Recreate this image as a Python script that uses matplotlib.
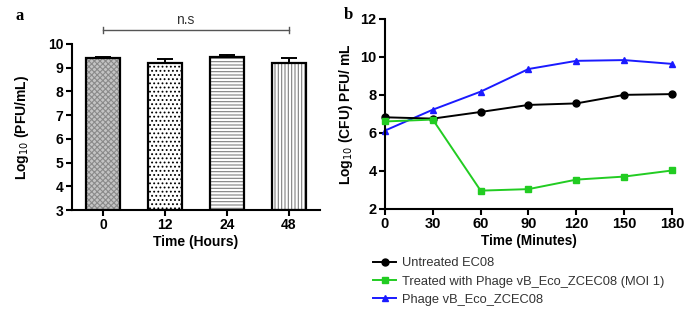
import numpy as np
import matplotlib
matplotlib.use("Agg")
import matplotlib.pyplot as plt

plt.rcParams["font.family"] = ["Liberation Sans", "DejaVu Sans"]
plt.rcParams["hatch.linewidth"] = 0.8

# ---- data: panel a ----
hours = ["0", "12", "24", "48"]
pfu_mean = [9.40, 9.20, 9.45, 9.20]
pfu_err = [0.03, 0.15, 0.10, 0.20]

# ---- data: panel b ----
minutes = [0, 30, 60, 90, 120, 150, 180]
untreated = [6.82, 6.75, 7.10, 7.47, 7.55, 8.00, 8.04]
treated = [6.60, 6.70, 2.96, 3.04, 3.54, 3.70, 4.02]
phage = [6.12, 7.22, 8.17, 9.36, 9.79, 9.83, 9.63]

fig = plt.figure(figsize=(6.85, 3.09), dpi=100)

# ---------------- panel a ----------------
ax1 = fig.add_axes([0.105, 0.320, 0.362, 0.538])
x = np.arange(len(hours))
hatches = ["xxxxxx", "....", "-----", "|||||"]
faces = ["#c4c4c4", "white", "white", "white"]
hcols = ["#8a8a8a", "black", "#808080", "#808080"]
for i in range(len(hours)):
    ax1.bar(x[i], pfu_mean[i] - 3, bottom=3, width=0.56,
            facecolor=faces[i], edgecolor=hcols[i], hatch=hatches[i],
            linewidth=0, zorder=2)
    ax1.bar(x[i], pfu_mean[i] - 3, bottom=3, width=0.56,
            facecolor="none", edgecolor="black", linewidth=1.6, zorder=3)
    ax1.errorbar(x[i], pfu_mean[i], yerr=[[0], [pfu_err[i]]], fmt="none",
                 ecolor="black", elinewidth=1.4, capsize=6, capthick=1.4, zorder=4)

ax1.set_xlim(-0.5, 3.5)
ax1.set_ylim(3, 10)
ax1.set_xticks(x)
ax1.set_xticklabels(hours)
ax1.set_yticks(range(3, 11))
for s in ["top", "right"]:
    ax1.spines[s].set_visible(False)
for s in ["left", "bottom"]:
    ax1.spines[s].set_linewidth(1.5)
ax1.tick_params(width=1.5, length=4, labelsize=10, pad=2)
for lab in ax1.get_xticklabels() + ax1.get_yticklabels():
    lab.set_fontweight("bold")
ax1.set_xlabel("Time (Hours)", fontsize=10, fontweight="bold", labelpad=2)
ax1.set_ylabel("Log$_{10}$ (PFU/mL)", fontsize=10, fontweight="bold", labelpad=12)

# n.s bracket
ax1.plot([0, 3], [10.58, 10.58], color="#555555", lw=1, clip_on=False)
ax1.plot([0, 0], [10.45, 10.72], color="#555555", lw=1, clip_on=False)
ax1.plot([3, 3], [10.45, 10.72], color="#555555", lw=1, clip_on=False)
ax1.text(1.32, 10.72, "n.s", ha="center", va="bottom", fontsize=10, color="#333333")
fig.text(0.022, 0.935, "a", fontsize=12, fontweight="bold", family="Liberation Serif")

# ---------------- panel b ----------------
ax2 = fig.add_axes([0.562, 0.324, 0.419, 0.615])
l1, = ax2.plot(minutes, untreated, color="black", marker="o", ms=5, lw=1.4, clip_on=False, zorder=3)
l2, = ax2.plot(minutes, treated, color="#22cc22", marker="s", ms=5, lw=1.4, clip_on=False, zorder=4)
l3, = ax2.plot(minutes, phage, color="#1a1aff", marker="^", ms=5, lw=1.4, clip_on=False, zorder=2)
ax2.set_xlim(0, 180)
ax2.set_ylim(2, 12)
ax2.set_xticks(minutes)
ax2.set_yticks(range(2, 13, 2))
for s in ["top", "right"]:
    ax2.spines[s].set_visible(False)
for s in ["left", "bottom"]:
    ax2.spines[s].set_linewidth(1.5)
ax2.tick_params(width=1.5, length=4, labelsize=10.5, pad=2)
for lab in ax2.get_xticklabels() + ax2.get_yticklabels():
    lab.set_fontweight("bold")
ax2.set_xlabel("Time (Minutes)", fontsize=9.8, fontweight="bold", labelpad=2)
ax2.set_ylabel("Log$_{10}$ (CFU) PFU/ mL", fontsize=10, fontweight="bold", labelpad=4)
fig.text(0.502, 0.94, "b", fontsize=12, fontweight="bold", family="Liberation Serif")

fig.legend([l1, l2, l3],
           ["Untreated EC08", "Treated with Phage vB_Eco_ZCEC08 (MOI 1)", "Phage vB_Eco_ZCEC08"],
           loc="upper left", bbox_to_anchor=(0.545, 0.167), frameon=False,
           fontsize=9.3, handlelength=1.75, handletextpad=0.5, labelspacing=0.48,
           borderaxespad=0, borderpad=0, labelcolor="#333333")

fig.savefig("out.png", dpi=100)
